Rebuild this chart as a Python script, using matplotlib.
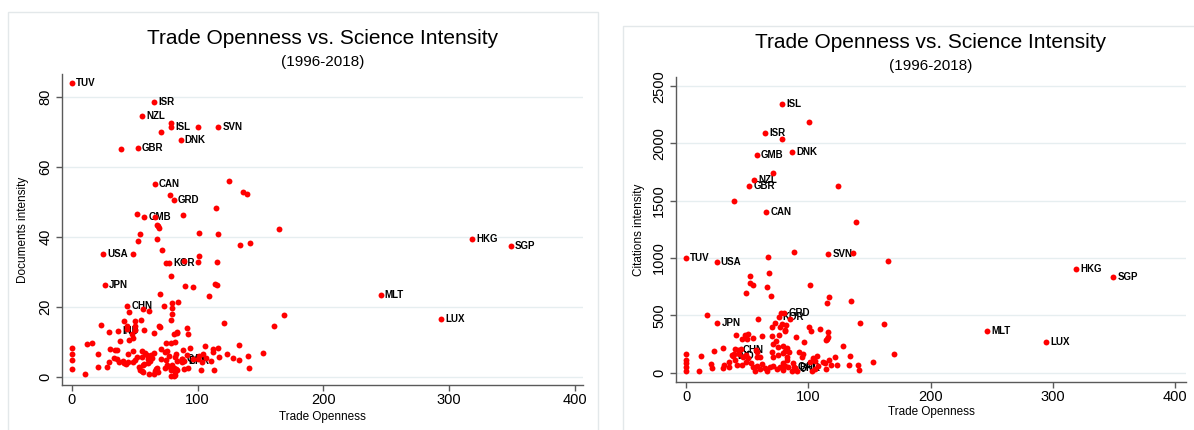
"""
Trade openness vs science intensity (1996-2018): documents and citations panels.
"""
import matplotlib
matplotlib.use("Agg")
import matplotlib.pyplot as plt
from matplotlib.patches import Rectangle

RED, INK, SPINE, GRID, FRAME = "#ff0000", "#000000", "#5a5a5a", "#e6eef0", "#e3e8ea"
W, H = 1194, 430
plt.rcParams.update({
    "font.family": ["Liberation Sans", "DejaVu Sans"],
    "figure.dpi": 100, "savefig.dpi": 100,
    "axes.edgecolor": SPINE, "axes.linewidth": 1.0,
})

TITLE = "Trade Openness vs. Science Intensity"
SUBTITLE = "(1996-2018)"
XLABEL = "Trade Openness"

# ---- panel 1: documents intensity ----
doc_labels = ["TUV", "ISR", "NZL", "ISL", "SVN", "DNK", "GBR", "CAN", "GRD", "GMB", "HKG",
              "SGP", "USA", "KOR", "JPN", "MLT", "CHN", "LUX", "IND", "QAT", "BHR"]
doc_lab_x = [0, 65.3, 55.9, 79.3, 116.4, 86.6, 52.3, 66, 80.9, 57.8, 318.5,
             348.9, 24.9, 77.5, 26.1, 245.6, 44.1, 293.6, 36.8, 87.7, 89.5]
doc_lab_y = [83.9, 78.4, 74.4, 71.4, 71.4, 67.5, 65.4, 55, 50.6, 45.7, 39.3,
             37.4, 35, 32.4, 26.3, 23.2, 20.2, 16.6, 13, 5.0, 4.6]
doc_x = [79.3, 100.6, 71.1, 39.5, 125, 136.5, 139.5, 78.1, 114.6, 88.8, 51.7, 66.3, 67.8, 69.3,
         68.5, 54.1, 52.6, 101.5, 116.1, 164.7, 134, 141.6, 68.1, 72, 48.9, 101.5, 74.8, 89,
         100.3, 115.2, 79, 89.7, 96, 113.7, 115.8, 69.9, 109.1, 169, 160.8, 121.3,
         56.4, 61.7, 45.5, 73.6, 80, 84.5, 79.5, 79.5, 78.7, 23, 41.8, 50.3, 55.1, 44.2, 43.7,
         50.3, 50.3, 29.7, 57.7, 65.7, 38.4, 47.7, 48.7, 45.3, 69.4, 70.4, 81.3, 84, 82.4, 79.2, 75,
         0, 0, 0, 0, 10.3, 12.2, 16.4, 20.9, 20.7, 28.3, 30.7, 34.4, 36, 29.4, 33.9, 36, 37.6,
         40.5, 44.5, 48.7, 55.6, 50.3, 52.2, 56.2, 58.5, 59.9, 63.3, 65.4, 60.4, 62.2, 63.6,
         60.9, 53.3, 55.9, 56.9, 54.3, 61.7, 65.2, 66.2, 67.6, 67, 68.9, 74.2, 76, 77.9, 79.5,
         81.3, 79.2, 81.9, 79.2, 81.3, 83.7, 71.2, 75, 77.6, 56.9, 57.7, 71, 74.2, 75.5, 82.1,
         41.6, 43.2, 44.8, 48.7,
         91.9, 92.2, 83.5, 106, 94, 88.5, 112.6, 116.1, 112.1, 133.2, 151.8, 123.2, 139.9, 128.2,
         132.7, 117.3, 111, 103.6, 106.5, 104.6, 101.4, 87.4, 87.9, 83.5, 82.7, 92.2, 89.3,
         102.8, 113.4, 141.2, 82.7, 82.1, 91.4, 96.7, 100.7]
doc_y = [72.4, 71.4, 70.0, 65.0, 55.8, 52.7, 52.2, 52.0, 48.3, 46.1, 46.6, 45.5, 43.4, 42.4,
         43.0, 40.8, 38.9, 41.1, 40.8, 42.2, 37.6, 38.1, 39.3, 36.2, 35, 34.6, 32.4, 33.1,
         32.7, 32.8, 28.9, 25.9, 25.6, 26.6, 26.1, 23.5, 23.1, 17.5, 14.4, 15.2,
         19.3, 18.7, 18.5, 20.2, 20.9, 21.2, 19.7, 17.8, 16.2, 14.7, 15.9, 15.9, 16.1, 14.4, 13.7,
         14.4, 13.2, 12.7, 13.2, 12.4, 10.2, 12.1, 11.1, 10.6, 14.4, 14.1, 12.3, 12.7, 9.9, 9.7, 9.7,
         8.2, 6.5, 4.8, 2.1, 0.7, 9.4, 9.7, 6.5, 2.8, 2.7, 7.8, 7.5, 7.6, 4.3, 5.3, 4.9, 4.2,
         4.5, 6.5, 7.3, 7.3, 4.7, 5.7, 5.5, 6.7, 6.3, 6.3, 6.8, 4.9, 4.4, 5.4,
         3.9, 2.8, 1.7, 1.2, 1.9, 0.8, 0.7, 1.6, 2.5, 2.1, 1.3, 2.6, 3.2, 2.8, 3.3,
         2.5, 2.0, 1.4, 0.3, 0.3, 1.8, 5.1, 4.7, 5.9, 3.3, 3.6, 7.9, 7.0, 7.2, 5.5,
         4.0, 3.7, 4.1, 4.3,
         13.9, 12.1, 12.4, 8.7, 8.1, 7.6, 7.9, 8.2, 7.1, 8.9, 6.8, 6.6, 5.9, 5.3,
         4.7, 5.5, 4.4, 4.1, 5.3, 6.4, 5.9, 5.0, 4.1, 4.5, 6.4, 2.6, 2.1,
         1.8, 2.0, 2.6, 2.2, 0.6, 6.1, 4.9, 4.9]

# ---- panel 2: citations intensity ----
cit_labels = ["ISL", "ISR", "DNK", "GMB", "NZL", "GBR", "CAN", "SVN", "TUV", "USA", "HKG",
              "SGP", "GRD", "KOR", "JPN", "MLT", "LUX", "CHN", "IND", "QAT", "BHR"]
cit_lab_x = [78.8, 64.9, 86.6, 57.8, 55.6, 51.9, 65.5, 116.2, 0, 25, 319,
             349.6, 80.4, 75.7, 25.7, 246.4, 294.6, 42.5, 38.4, 88, 89.5]
cit_lab_y = [2343, 2093, 1922, 1895, 1683, 1625, 1398, 1038, 1000, 962, 907,
             831, 517, 488, 436, 360, 267, 197, 143, 51, 40]
cit_x = [100.5, 78.8, 70.8, 124.6, 38.9, 139.4, 88.7, 136.6, 66.8, 165.4, 52.6, 67.7, 52.3,
         54.5, 66.4, 49.3, 69.4, 101.6, 116.6, 115, 134.8, 16.9, 77.9, 58.6, 161.8, 142.4, 73,
         70.3, 76.8, 80.9, 78.8, 80.9, 81.7, 84.9, 100.7, 102.1, 109.7, 115.8, 115.8, 114.1, 115,
         89.9, 96.6, 128.8, 134.3, 121.5, 117.1, 112.2, 113.8, 152.8, 170.2, 140.3, 141.9, 133.7,
         123.9, 118.2, 114.1, 106.8, 103.8, 105.4, 101.6, 107.6, 105.4, 103.2, 84.4, 92.3, 95.8,
         94.5, 82.3, 83.1, 87.7, 89, 90.4, 86.3,
         40.6, 48.5, 50.9, 46, 49.6, 54.7, 62.1, 70, 70.8, 73.8, 76, 30, 23.1, 12.5, 0, 0, 0, 0,
         0, 10.6, 20.7, 21.2, 30.2, 31.3, 35.1, 35.4, 37.6, 39.5, 43.3, 40.3, 41.7, 45.5, 46.8,
         49, 50.7, 49.3, 53.1, 54.5, 56.1, 58.3, 60.5, 62.1, 64.5, 66.4, 68.6, 71.3, 74.1, 76.8,
         79, 80.9, 79.5, 71.3, 75.4, 79.5, 80.9, 82.3, 79.5, 75.4, 82.8, 70, 60.7, 58.3,
         39.9, 44.8, 57.2, 58.1]
cit_y = [2186, 2035, 1738, 1631, 1497, 1311, 1052, 1044, 1012, 977, 846, 872, 785,
         767, 744, 692, 671, 762, 660, 610, 627, 503, 517, 465, 427, 430, 430,
         401, 395, 363, 424, 372, 415, 465, 395, 363, 380, 357, 308, 282, 293,
         308, 270, 229, 145, 139, 110, 92, 86, 90, 162, 64, 25, 66,
         66, 66, 34, 145, 130, 101, 95, 58, 29, 14, 177, 177, 162,
         139, 110, 51, 81, 37, 17, 17,
         325, 325, 337, 291, 296, 299, 319, 317, 252, 278, 328, 212, 186, 148, 162, 110, 81, 46,
         17, 17, 72, 43, 40, 64, 93, 46, 151, 165, 160, 110, 69, 64, 139,
         154, 130, 90, 86, 46, 17, 58, 29, 72, 37, 17, 51, 58, 29, 46,
         23, 58, 81, 139, 154, 174, 191, 212, 232, 226, 133, 183, 139, 133,
         209, 203, 200, 183]


def px(x0, y0, x1, y1):
    """pixel box (top-left origin) -> figure fraction [left, bottom, width, height]"""
    return [x0 / W, 1 - y1 / H, (x1 - x0) / W, (y1 - y0) / H]


def panel(fig, box, xlim, ylim, yticks, ylabel, xs, ys, lx, ly, labels, ylab_x, xlab_y):
    ax = fig.add_axes(px(*box))
    ax.set_xlim(*xlim)
    ax.set_ylim(*ylim)
    for s in ("top", "right"):
        ax.spines[s].set_visible(False)
    ax.set_yticks(yticks)
    ax.set_xticks([0, 100, 200, 300, 400])
    ax.yaxis.grid(True, color=GRID, lw=1.0)
    ax.set_axisbelow(True)
    ax.tick_params(colors=SPINE, length=4, width=1.0, labelcolor=INK, labelsize=10.5)
    ax.tick_params(axis="y", labelrotation=90, pad=3)
    ax.tick_params(axis="x", pad=2)
    for t in ax.get_yticklabels():
        t.set_va("center")
    ax.scatter(xs, ys, s=18, color=RED, lw=0, zorder=3)
    ax.scatter(lx, ly, s=18, color=RED, lw=0, zorder=3)
    for x, y, t in zip(lx, ly, labels):
        ax.annotate(t, (x, y), xytext=(3, 0), textcoords="offset points", ha="left",
                    va="center", fontsize=7, fontweight="bold", color=INK, zorder=2)
    ax.set_ylabel(ylabel, fontsize=8.5)
    ax.yaxis.set_label_coords(ylab_x, 0.5)
    ax.set_xlabel(XLABEL, fontsize=8.5, va="center")
    ax.xaxis.set_label_coords(0.5, xlab_y)
    return ax


fig = plt.figure(figsize=(W / 100, H / 100))
fig.add_artist(Rectangle((7.5 / W, -0.01), 590.5 / W, 1.01 - 12 / H, transform=fig.transFigure,
                         fill=False, ec=FRAME, lw=1.0))
fig.add_artist(Rectangle((623 / W, -0.01), 1.02 - 623 / W, 1.01 - 25.5 / H,
                         transform=fig.transFigure, fill=False, ec=FRAME, lw=1.0))

a1 = panel(fig, (62.3, 74, 583, 385), (-7.5, 406.4), (-2.4, 86.5), [0, 20, 40, 60, 80],
           "Documents intensity", doc_x, doc_y, doc_lab_x, doc_lab_y, doc_labels, -0.064, -0.103)
a2 = panel(fig, (676, 77, 1186, 382), (-8.2, 409), (-82, 2580), [0, 500, 1000, 1500, 2000, 2500],
           "Citations intensity", cit_x, cit_y, cit_lab_x, cit_lab_y, cit_labels, -0.061, -0.098)

fig.text(322.6 / W, 1 - 38 / H, TITLE, fontsize=15, ha="center", va="center")
fig.text(322.6 / W, 1 - 62 / H, SUBTITLE, fontsize=11, ha="center", va="center")
fig.text(931 / W, 1 - 43 / H, TITLE, fontsize=15, ha="center", va="center")
fig.text(931 / W, 1 - 66 / H, SUBTITLE, fontsize=11, ha="center", va="center")

fig.savefig("out.png", facecolor="white")
